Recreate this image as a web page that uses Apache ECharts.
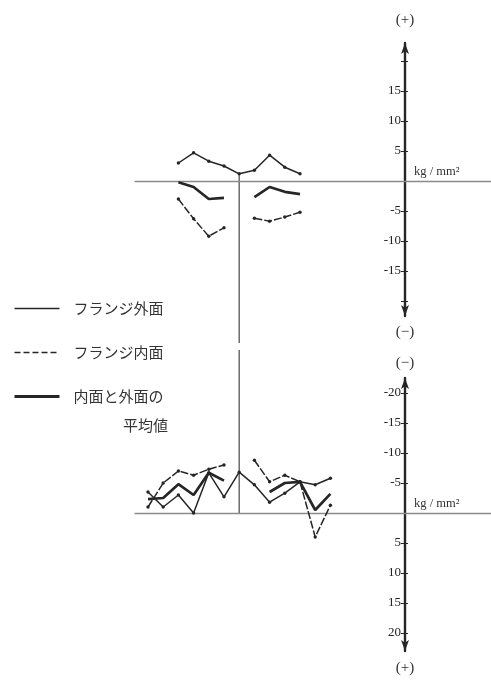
<!DOCTYPE html>
<html>
<head>
<meta charset="utf-8">
<script src="https://cdn.jsdelivr.net/npm/echarts@6/dist/echarts.min.js"></script>
<style>
  html, body { margin: 0; padding: 0; background: #fff; }
  #chart { width: 491px; height: 680px; }
</style>
</head>
<body>
<div id="chart"></div>
<script>
// Measurement points across the flange (index 6 = web centre line)
const pointIndex = [0, 1, 2, 3, 4, 5, 6, 7, 8, 9, 10, 11, 12];
const centreIndex = 6;

// Upper diagram, stress in kg/mm² (positive upward)
const outerUpper = [null, null, 3.0, 4.7, 3.3, 2.5, 1.2, 1.8, 4.3, 2.3, 1.2, null, null];
const innerUpper = [null, null, -3.0, -6.3, -9.2, -7.8, null, -6.2, -6.7, -6.0, -5.2, null, null];
const meanUpper  = [null, null, -0.2, -1.0, -3.0, -2.8, null, -2.7, -1.0, -1.8, -2.2, null, null];

// Lower diagram, stress in kg/mm² (negative upward)
const outerLower = [-3.5, -1.0, -3.0, 0.0, -6.7, -2.7, -6.8, -4.7, -1.8, -3.3, -5.2, -4.7, -5.8];
const innerLower = [-1.0, -5.0, -7.0, -6.3, -7.3, -8.0, null, -8.8, -5.2, -6.3, -5.2, 4.0, -1.3];
const meanLower  = [-2.3, -2.5, -4.8, -3.0, -6.7, -5.4, null, null, -3.5, -5.0, -5.2, -0.5, -3.2];

// Stress axis ticks and labels
const upperTicks  = [-20, -15, -10, -5, 5, 10, 15, 20];
const upperLabels = [-15, -10, -5, 5, 10, 15];
const lowerTicks  = [-20, -15, -10, -5, 5, 10, 15, 20];
const lowerLabels = [-20, -15, -10, -5, 5, 10, 15, 20];

// Legend names
const NAME_OUTER = 'フランジ外面';
const NAME_INNER = 'フランジ内面';
const NAME_MEAN  = '内面と外面の平均値';

const INK = '#262626';
const SERIF = '"Liberation Serif", "DejaVu Serif", serif';
const JP = '"Noto Sans CJK JP", "Noto Sans", sans-serif';

const W_OUTER = 1.5, W_INNER = 1.5, W_MEAN = 2.7;
const DASH = [8, 2];

const pairs = vals => pointIndex.map(i => [i, vals[i]]);

const Y_MIN = -22.5, Y_MAX = 23;
const X_MIN = -0.855, X_MAX = 22.566;

function dataAxes(gridIndex, inverse) {
  return {
    x: {
      type: 'value', gridIndex, min: X_MIN, max: X_MAX,
      axisLine: { onZero: true, lineStyle: { color: '#8a8a8a', width: 1.3 } },
      axisTick: { show: false }, axisLabel: { show: false }, splitLine: { show: false }
    },
    y: {
      type: 'value', gridIndex, min: Y_MIN, max: Y_MAX, inverse,
      show: false, splitLine: { show: false }
    }
  };
}

function stressAxis(gridIndex, inverse, ticks, labels) {
  return {
    type: 'value', gridIndex, min: Y_MIN, max: Y_MAX, inverse, position: 'left',
    axisLine: {
      show: true, onZero: false, symbol: ['arrow', 'arrow'], symbolSize: [6, 11],
      lineStyle: { color: INK, width: 2.4 }
    },
    axisTick: { show: true, customValues: ticks, length: 4, lineStyle: { color: INK, width: 1 } },
    axisLabel: {
      customValues: labels, margin: 4, color: '#222',
      fontFamily: SERIF, fontSize: 13
    },
    splitLine: { show: false }
  };
}

function tickStub(gridIndex, inverse, ticks) {
  return {
    type: 'value', gridIndex, min: Y_MIN, max: Y_MAX, inverse, position: 'right',
    axisLine: { show: false, onZero: false },
    axisTick: { show: true, customValues: ticks, length: 3, lineStyle: { color: INK, width: 1 } },
    axisLabel: { show: false }, splitLine: { show: false }
  };
}

function hiddenX(gridIndex) {
  return { type: 'value', gridIndex, show: false, min: 0, max: 1 };
}

const upperTop = 43, lowerTop = 378, panelH = 273;

const up = dataAxes(0, false);
const lo = dataAxes(3, true);

function seriesSet(xi, yi, outer, inner, mean) {
  const base = {
    type: 'line', xAxisIndex: xi, yAxisIndex: yi, connectNulls: false,
    symbol: 'circle', symbolSize: 3.4, silent: true, z: 3
  };
  return [
    Object.assign({}, base, {
      name: NAME_OUTER, data: pairs(outer),
      lineStyle: { color: INK, width: W_OUTER }, itemStyle: { color: INK }
    }),
    Object.assign({}, base, {
      name: NAME_INNER, data: pairs(inner),
      lineStyle: { color: INK, width: W_INNER, type: DASH }, itemStyle: { color: INK }
    }),
    Object.assign({}, base, {
      name: NAME_MEAN, data: pairs(mean), symbol: 'none',
      lineStyle: { color: INK, width: W_MEAN }, itemStyle: { color: INK }
    })
  ];
}

const textStyleParen = { fill: '#333', font: '15px ' + SERIF, textAlign: 'center', textVerticalAlign: 'middle' };
const unitStyle = { fill: '#333', font: '12.5px ' + SERIF, textAlign: 'left', textVerticalAlign: 'middle' };

const chart = echarts.init(document.getElementById('chart'), null, { renderer: 'canvas' });

chart.setOption({
  animation: false,
  backgroundColor: '#ffffff',
  grid: [
    { left: 135, right: 0, top: upperTop, height: panelH },
    { left: 405, right: 0, top: upperTop, height: panelH },
    { left: 0, right: 86, top: upperTop, height: panelH },
    { left: 135, right: 0, top: lowerTop, height: panelH },
    { left: 405, right: 0, top: lowerTop, height: panelH },
    { left: 0, right: 86, top: lowerTop, height: panelH }
  ],
  xAxis: [up.x, hiddenX(1), hiddenX(2), lo.x, hiddenX(4), hiddenX(5)],
  yAxis: [
    up.y,
    stressAxis(1, false, upperTicks, upperLabels),
    tickStub(2, false, upperTicks),
    lo.y,
    stressAxis(4, true, lowerTicks, lowerLabels),
    tickStub(5, true, lowerTicks)
  ],
  legend: {
    data: [
      { name: NAME_OUTER, lineStyle: { width: W_OUTER, color: INK } },
      { name: NAME_INNER, lineStyle: { width: W_INNER, color: INK, type: [6, 3] } },
      { name: NAME_MEAN, lineStyle: { width: 3, color: INK } }
    ],
    orient: 'vertical', left: 8, top: 296,
    itemWidth: 45, itemHeight: 14, itemGap: 29,
    selectedMode: false,
    itemStyle: { opacity: 0 },
    formatter: n => (n === NAME_MEAN ? '内面と外面の' : n),
    textStyle: { color: '#333', fontFamily: JP, fontSize: 15, padding: [0, 0, 0, 9] }
  },
  series: [
    ...seriesSet(0, 0, outerUpper, innerUpper, meanUpper),
    ...seriesSet(3, 3, outerLower, innerLower, meanLower)
  ],
  graphic: [
    { id: 'pTopPlus', type: 'text', x: 405, y: 20, style: Object.assign({ text: '(+)' }, textStyleParen) },
    { id: 'pTopMinus', type: 'text', x: 405, y: 332, style: Object.assign({ text: '(−)' }, textStyleParen) },
    { id: 'pBotMinus', type: 'text', x: 405, y: 363, style: Object.assign({ text: '(−)' }, textStyleParen) },
    { id: 'pBotPlus', type: 'text', x: 405, y: 668, style: Object.assign({ text: '(+)' }, textStyleParen) },
    { id: 'meanLine2', type: 'text', x: 168, y: 425,
      style: { text: '平均値', fill: '#333', font: '15px ' + JP, textAlign: 'right', textVerticalAlign: 'middle' } }
  ]
});

// Unit labels just above each baseline, and the web centre line joining the two diagrams
const uUp = chart.convertToPixel({ gridIndex: 0 }, [0, 0]);
const uLo = chart.convertToPixel({ gridIndex: 3 }, [0, 0]);
const cTop = chart.convertToPixel({ gridIndex: 0 }, [centreIndex, outerUpper[centreIndex]]);
const cBot = chart.convertToPixel({ gridIndex: 3 }, [centreIndex, 0]);
const gapMid = (upperTop + panelH + lowerTop) / 2;

chart.setOption({
  graphic: [
    { id: 'unitUp', type: 'text', x: 414, y: uUp[1] - 9, style: Object.assign({ text: 'kg / mm²' }, unitStyle) },
    { id: 'unitLo', type: 'text', x: 414, y: uLo[1] - 9, style: Object.assign({ text: 'kg / mm²' }, unitStyle) },
    { id: 'webA', type: 'line', shape: { x1: cTop[0], y1: cTop[1], x2: cTop[0], y2: gapMid - 4 },
      style: { stroke: '#555', lineWidth: 1.3 } },
    { id: 'webB', type: 'line', shape: { x1: cBot[0], y1: gapMid + 3, x2: cBot[0], y2: cBot[1] },
      style: { stroke: '#555', lineWidth: 1.3 } }
  ]
});
</script>
</body>
</html>
